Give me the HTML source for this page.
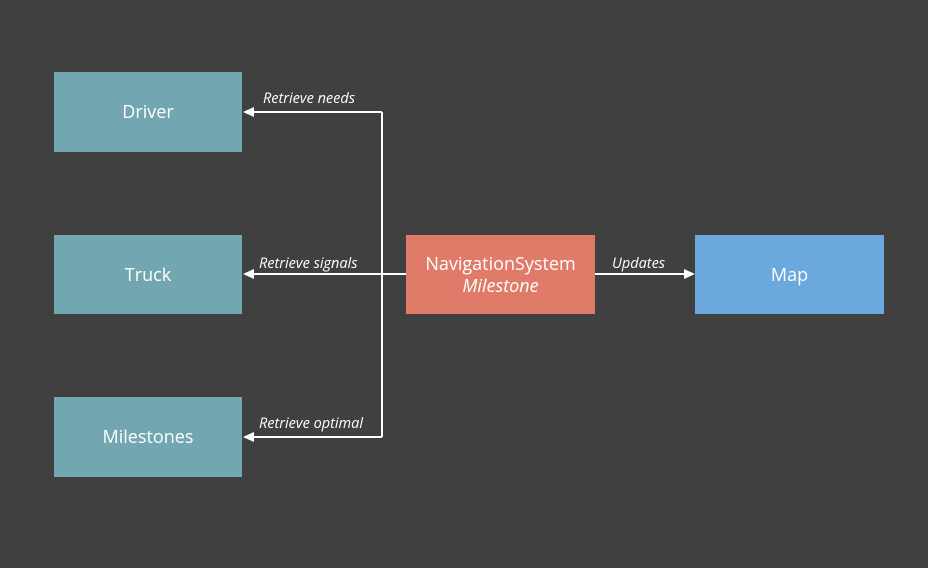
<!DOCTYPE html>
<html><head><style>
body{margin:0;width:928px;height:568px;background:#404040;overflow:hidden;font-family:"Open Sans","Liberation Sans",sans-serif}
.b{position:absolute;display:flex;flex-direction:column;align-items:center;justify-content:center;color:#fff;font-size:18px}
</style></head><body>
<div class="b" style="left:54px;top:72px;width:188px;height:80px;background:#72a7b1">Driver</div>
<div class="b" style="left:54px;top:235px;width:188px;height:79px;background:#72a7b1">Truck</div>
<div class="b" style="left:54px;top:397px;width:188px;height:80px;background:#72a7b1">Milestones</div>
<div class="b" style="left:406px;top:235px;width:189px;height:79px;background:#e07b6a;line-height:22px">NavigationSystem<i>Milestone</i></div>
<div class="b" style="left:695px;top:235px;width:189px;height:79px;background:#6aa8dd">Map</div>
<svg width="928" height="568" style="position:absolute;left:0;top:0">
<g stroke="#fff" stroke-width="2" fill="none">
<path d="M406 274H382M382 112V437M382 112H252M382 274H252M382 437H252M595 274H685"/>
</g>
<g fill="#fff">
<path d="M243 112l11-5v10z"/><path d="M243 274l11-5v10z"/><path d="M243 437l11-5v10z"/><path d="M695 274l-11-5v10z"/>
</g>
<g fill="#fff" font-style="italic" font-size="14.5" font-family="Open Sans,Liberation Sans,sans-serif">
<text x="263" y="103">Retrieve needs</text>
<text x="259" y="268">Retrieve signals</text>
<text x="259" y="428">Retrieve optimal</text>
<text x="612" y="268">Updates</text>
</g>
</svg>
</body></html>
